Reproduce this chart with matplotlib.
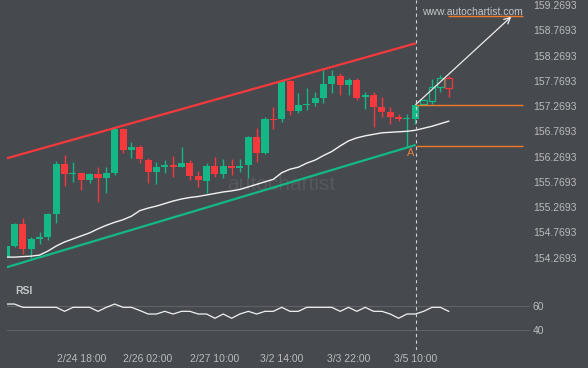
import matplotlib
matplotlib.use("Agg")
import matplotlib.pyplot as plt
import numpy as np

# candle data (4h bars)
opens = [154.28, 154.50, 154.93, 154.44, 154.64, 154.68, 155.13, 156.12, 155.92, 155.94,
         155.80, 155.92, 155.85, 155.94, 156.81, 156.39, 156.46, 156.20, 155.97, 156.06,
         156.10, 156.06, 156.14, 155.89, 155.78, 156.09, 155.92, 156.08, 156.04, 156.10,
         156.65, 156.35, 157.02, 157.01, 157.76, 157.18, 157.29, 157.32, 157.43, 157.70,
         157.86, 157.68, 157.78, 157.44, 157.49, 157.26, 157.16, 157.05, 157.01, 157.01,
         157.31, 157.37, 157.64, 157.83]
highs = [154.52, 154.96, 155.05, 154.68, 154.77, 155.15, 156.18, 156.30, 156.16, 155.95,
         155.95, 156.07, 156.07, 156.86, 156.83, 156.56, 156.50, 156.25, 156.17, 156.20,
         156.28, 156.46, 156.20, 155.99, 156.15, 156.26, 156.23, 156.23, 156.23, 156.68,
         156.83, 157.05, 157.26, 157.78, 157.78, 157.52, 157.62, 157.55, 157.98, 157.98,
         157.93, 157.82, 157.82, 157.55, 157.55, 157.45, 157.26, 157.12, 157.12, 157.31,
         157.40, 157.80, 157.88, 157.86]
lows = [154.22, 154.48, 154.35, 154.26, 154.54, 154.62, 154.95, 155.69, 155.77, 155.61,
        155.75, 155.38, 155.54, 155.90, 156.35, 156.25, 156.14, 155.75, 155.72, 155.94,
        155.87, 156.06, 155.80, 155.67, 155.54, 155.87, 155.85, 155.90, 155.96, 155.84,
        156.17, 156.32, 156.81, 156.96, 157.09, 157.13, 157.19, 157.27, 157.32, 157.52,
        157.49, 157.49, 157.39, 157.21, 156.86, 157.06, 156.91, 156.98, 156.48, 156.91,
        157.29, 157.31, 157.55, 157.44]
closes = [154.50, 154.93, 154.44, 154.64, 154.68, 155.13, 156.12, 155.92, 155.94, 155.80,
          155.92, 155.85, 155.94, 156.81, 156.39, 156.46, 156.22, 155.97, 156.06, 156.10,
          156.06, 156.14, 155.89, 155.80, 156.09, 155.92, 156.08, 156.04, 156.08, 156.65,
          156.35, 157.01, 157.00, 157.76, 157.18, 157.29, 157.31, 157.43, 157.70, 157.86,
          157.68, 157.78, 157.43, 157.49, 157.26, 157.16, 157.05, 157.01, 157.02, 157.29,
          157.38, 157.64, 157.83, 157.62]

moving_avg = [154.28, 154.28, 154.29, 154.30, 154.32, 154.40, 154.50, 154.58, 154.64, 154.70,
              154.76, 154.84, 154.91, 154.97, 155.02, 155.09, 155.20, 155.25, 155.29, 155.34,
              155.39, 155.43, 155.46, 155.48, 155.51, 155.54, 155.57, 155.59, 155.62, 155.67,
              155.72, 155.77, 155.82, 155.95, 156.02, 156.06, 156.14, 156.20, 156.29, 156.37,
              156.48, 156.58, 156.64, 156.68, 156.71, 156.74, 156.75, 156.76, 156.77, 156.79,
              156.83, 156.87, 156.92, 156.97]

rsi = [61.6, 61.6, 58.9, 58.9, 58.9, 58.9, 58.9, 55.6, 58.9, 58.9,
       58.9, 55.6, 58.9, 61.6, 58.9, 58.9, 56.3, 53.4, 53.4, 55.6,
       53.4, 55.6, 55.6, 53.4, 53.4, 49.9, 53.4, 49.9, 53.4, 55.6,
       53.4, 55.6, 55.6, 58.9, 55.6, 55.6, 58.9, 58.9, 58.9, 58.9,
       55.6, 58.9, 55.6, 58.9, 55.6, 55.6, 53.4, 49.9, 53.4, 53.4,
       55.6, 58.9, 58.9, 55.6]

tick_idx = [9, 17, 25, 33, 41, 49]
tick_labels = ["2/24 18:00", "2/26 02:00", "2/27 10:00", "3/2 14:00", "3/3 22:00", "3/5 10:00"]
price_ticks = [154.2693, 154.7693, 155.2693, 155.7693, 156.2693, 156.7693,
               157.2693, 157.7693, 158.2693, 158.7693, 159.2693]
rsi_ticks = [40, 60]

# pattern overlay
channel_x = [0.07, 49.05]
resistance = [156.235, 158.511]
support = [154.08, 156.50]
pattern_end = 49
level_prices = [157.30, 156.48]
target_price = 159.05
forecast_x = [49.05, 60.5]
forecast_y = [157.30, 159.04]
point_a = (48.4, 156.35)

BG = "#46494e"
TXT = "#b9bbbe"
GREEN = "#14b886"
RED = "#f5393c"
ORANGE = "#f07a2a"

plt.rcParams["font.family"] = ["Liberation Sans", "DejaVu Sans"]

W, H = 588, 368
fig = plt.figure(figsize=(W / 100, H / 100), dpi=100, facecolor=BG)
left, right = 6.5, 530
ax = fig.add_axes([left / W, (H - 283) / H, (right - left) / W, 283 / H], facecolor=BG)
ax_rsi = fig.add_axes([left / W, (H - 350) / H, (right - left) / W, 67 / H], facecolor=BG)

xlim = ((left - 6.15) / 8.35, (right - 6.15) / 8.35)
for a in (ax, ax_rsi):
    a.set_xlim(*xlim)
    for s in a.spines.values():
        s.set_visible(False)
    a.yaxis.tick_right()
    a.tick_params(axis="y", length=0, pad=2, labelsize=7.5, labelcolor=TXT)
    a.axvline(pattern_end + 0.05, color="#cfd0d2", lw=0.8, ls=(0, (3, 3)), zorder=6)

ax.set_ylim(153.768, 159.368)
ax.set_yticks(price_ticks)
ax.set_yticklabels([f"{p:.4f}" for p in price_ticks])
ax.set_xticks([])

# watermark
ax.text(32.9, 155.72, "autochartist", fontsize=15, color="#55585d",
        ha="center", va="center", zorder=0)

# candles
idx = np.arange(len(opens))
for i in idx:
    o, h, l, c = opens[i], highs[i], lows[i], closes[i]
    col = GREEN if c >= o else RED
    ax.vlines(i, l, h, color=col, lw=1, zorder=3)
    body = max(abs(c - o), 0.015)
    if i > pattern_end:
        ax.bar(i, body, bottom=min(o, c), width=0.78, facecolor=BG, edgecolor=col,
               lw=0.9, zorder=4)
    else:
        ax.bar(i, body, bottom=min(o, c), width=0.84, color=col, lw=0, zorder=4)

ax.plot(idx, moving_avg, color="#f2f2f2", lw=1, zorder=5)

ax.plot(channel_x, resistance, color=RED, lw=1.6, zorder=5, solid_capstyle="butt")
ax.plot(channel_x, support, color=GREEN, lw=1.6, zorder=5, solid_capstyle="butt")

for lv in level_prices:
    ax.hlines(lv, channel_x[1], 61.93, color=ORANGE, lw=1, zorder=5)
ax.hlines(target_price, 52.95, 61.93, color=ORANGE, lw=1, zorder=5)

ax.annotate("", xy=(forecast_x[1], forecast_y[1]), xytext=(forecast_x[0], forecast_y[0]),
            arrowprops=dict(arrowstyle="->", color="#ececec", lw=0.9, mutation_scale=11,
                            shrinkA=0, shrinkB=0), zorder=7)
ax.text(point_a[0], point_a[1], "A", color="#e5803f", fontsize=8, ha="center",
        va="center", zorder=7)
ax.text(61.9, 159.13, "www.autochartist.com", color="#c4c6c8", fontsize=7.5,
        ha="right", va="center", zorder=7)

# RSI panel
ax_rsi.set_ylim(23.8, 78.9)
ax_rsi.set_yticks(rsi_ticks)
ax_rsi.grid(axis="y", color="#5e6165", lw=0.8)
ax_rsi.set_axisbelow(True)
ax_rsi.plot(idx, rsi, color="#f2f2f2", lw=0.9, zorder=5)
ax_rsi.text(0.016, 0.88, "RSI", transform=ax_rsi.transAxes, fontsize=7.5,
            fontweight="bold", color="#c4c6c8", ha="left", va="center")
ax_rsi.set_xticks(tick_idx)
ax_rsi.set_xticklabels(tick_labels)
ax_rsi.tick_params(axis="x", length=0, pad=3, labelsize=7.5, labelcolor=TXT)

fig.savefig("out.png", dpi=100, facecolor=BG)
